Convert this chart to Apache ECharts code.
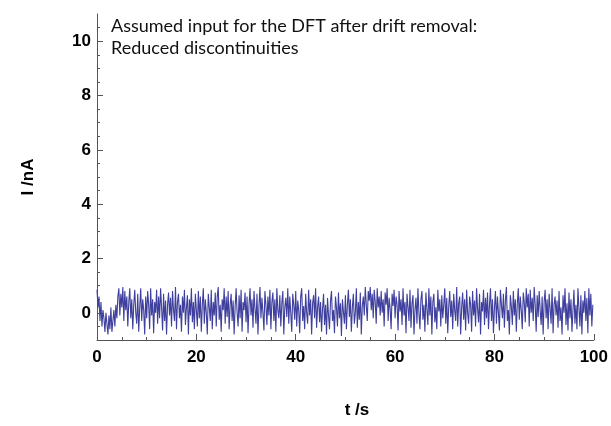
<!DOCTYPE html>
<html>
<head>
<meta charset="utf-8">
<script src="https://cdn.jsdelivr.net/npm/echarts@6/dist/echarts.min.js"></script>
<style>
  html, body { margin: 0; padding: 0; background: #fff; }
  #chart { width: 611px; height: 426px; }
</style>
</head>
<body>
<div id="chart"></div>
<script>
// sample spacing of the trace, seconds
const dt = 0.2

// current in nA, one array per 20 s
const current00 = [
  0.85, 0.2, 0.6, -0.3, 0.4, -0.5, 0.1, -0.2, -0.7, 0.0, -0.4, -0.8, -0.1, -0.6, 0.2, -0.7, -0.3, 0.1, -0.5, 0.3, -0.2, 0.6, 0.9, -0.1, 0.7,
  0.2, 0.95, -0.3, 0.8, 0.1, 0.6, -0.5, 0.4, 0.9, -0.2, 0.5, -0.6, 0.3, 0.85, 0.0, -0.4, 0.7, -0.7, 0.2, 0.9, -0.3, 0.5, 0.1, -0.8, 0.6,
  -0.2, 0.8, 0.3, -0.6, 0.9, -0.1, 0.5, -0.75, 0.4, 0.0, 0.85, -0.4, 0.6, -0.2, 0.9, 0.2, -0.65, 0.7, -0.3, 0.45, -0.8, 0.3, 0.75, -0.1, 0.55,
  -0.5, 0.8, 0.1, -0.3, 0.95, -0.6, 0.4, 0.7, -0.2, 0.3, -0.7, 0.6, 0.0, 0.85, -0.45, 0.2, 0.65, -0.8, 0.5, -0.1, 0.9, -0.35, 0.4, -0.6, 0.7
]
const current20 = [
  0.1, -0.5, 0.8, -0.2, 0.6, -0.7, 0.3, 0.9, -0.4, 0.5, 0.0, -0.8, 0.7, 0.2, -0.3, 0.85, -0.6, 0.4, -0.1, 0.75, -0.5, 0.6, 0.95, -0.25, 0.3,
  -0.7, 0.5, 0.1, 0.9, -0.4, 0.6, -0.15, 0.8, -0.6, 0.3, 0.7, -0.3, 0.45, -0.8, 0.2, 0.9, 0.0, -0.5, 0.65, -0.2, 0.85, -0.7, 0.4, 0.1, 0.75,
  -0.35, 0.6, -0.75, 0.3, 0.9, -0.1, 0.5, -0.55, 0.8, 0.15, -0.4, 0.7, -0.8, 0.25, 0.95, -0.2, 0.55, 0.0, -0.65, 0.8, 0.3, -0.45, 0.6, -0.1, 0.85,
  -0.6, 0.4, 0.75, -0.3, 0.5, -0.7, 0.9, 0.1, -0.2, 0.65, -0.5, 0.35, 0.8, -0.8, 0.2, 0.55, -0.15, 0.9, -0.4, 0.6, 0.0, -0.7, 0.7, 0.3, -0.25
]
const current40 = [
  0.8, -0.5, 0.45, 0.1, -0.75, 0.6, 0.9, -0.3, 0.25, -0.6, 0.7, 0.0, -0.4, 0.85, -0.1, 0.5, -0.8, 0.35, 0.65, -0.2, 0.9, -0.55, 0.2, 0.6, -0.35,
  0.4, -0.7, 0.15, 0.7, -0.45, 0.3, -0.8, 0.55, -0.1, -0.6, 0.45, 0.8, -0.3, 0.1, -0.75, 0.6, 0.2, -0.5, 0.75, -0.2, 0.35, -0.85, 0.5, 0.05, -0.4,
  0.65, -0.6, 0.3, 0.85, -0.15, 0.5, -0.7, 0.2, 0.7, -0.4, 0.0, 0.9, -0.55, 0.4, -0.25, 0.75, -0.8, 0.25, 0.6, -0.1, 0.95, 0.3, -0.3, 0.8, 0.45,
  0.95, 0.1, 0.7, -0.2, 0.85, 0.4, -0.4, 0.9, 0.2, 0.6, -0.1, 0.8, 0.0, 0.5, -0.5, 0.75, 0.3, 0.9, -0.3, 0.55, 0.15, -0.6, 0.7, 0.25, 0.85
]
const current60 = [
  -0.2, 0.6, 0.3, -0.65, 0.8, 0.05, 0.5, -0.45, 0.9, -0.1, 0.4, -0.75, 0.7, 0.2, -0.3, 0.85, -0.55, 0.35, 0.65, -0.8, 0.1, 0.55, -0.4, 0.9, 0.0,
  -0.6, 0.5, 0.8, -0.25, 0.3, -0.7, 0.75, 0.15, -0.45, 0.9, -0.1, 0.6, -0.8, 0.4, 0.7, -0.35, 0.2, -0.6, 0.85, 0.05, 0.5, -0.5, 0.65, -0.2, 0.3,
  0.9, -0.4, 0.55, -0.75, 0.25, 0.8, -0.15, 0.45, -0.6, 0.7, 0.1, -0.3, 0.95, -0.5, 0.35, 0.6, -0.8, 0.2, 0.75, -0.25, 0.5, -0.65, 0.85, 0.0, -0.4,
  0.6, 0.3, -0.7, 0.8, -0.1, 0.45, -0.5, 0.9, 0.15, -0.35, 0.7, -0.8, 0.4, 0.05, 0.85, -0.45, 0.55, -0.2, 0.75, -0.6, 0.3, 0.9, -0.3, 0.5, -0.75
]
const current80 = [
  0.2, 0.8, -0.4, 0.6, 0.0, -0.65, 0.85, 0.3, -0.2, 0.7, -0.55, 0.45, 0.95, -0.3, 0.1, -0.8, 0.65, 0.25, -0.45, 0.8, -0.1, 0.5, -0.7, 0.35, 0.9,
  -0.25, 0.6, 0.1, -0.6, 0.75, 0.4, -0.35, 0.9, 0.2, 0.7, -0.5, 0.85, 0.0, 0.55, -0.3, 0.95, 0.3, -0.7, 0.65, -0.15, 0.8, 0.1, -0.45, 0.6, -0.8,
  0.4, 0.85, -0.2, 0.5, -0.6, 0.7, 0.15, -0.4, 0.9, -0.75, 0.3, 0.6, -0.1, 0.45, -0.55, 0.8, -0.3, 0.2, -0.8, 0.65, 0.0, 0.9, -0.45, 0.35, -0.65,
  0.75, -0.2, 0.5, -0.7, 0.1, 0.85, -0.4, 0.3, -0.6, 0.9, 0.2, -0.5, 0.65, -0.8, 0.45, 0.0, 0.8, -0.3, 0.55, -0.75, 0.9, -0.1, 0.7, -0.5, 0.3
]

const yLabels = [0, 2, 4, 6, 8, 10]
const yMinor = [-0.5, 0.5, 1, 1.5, 2.5, 3, 3.5, 4.5, 5, 5.5, 6.5, 7, 7.5, 8.5, 9, 9.5, 10.5]
const noteLines = ['Assumed input for the DFT after drift removal:', 'Reduced discontinuities']

const current = [].concat(current00, current20, current40, current60, current80)
const trace = current.map((v, i) => [Math.round(i * dt * 10) / 10, v])

const axisColor = '#555'
const labelFont = {
  color: '#000',
  fontFamily: 'Liberation Sans, Arial, sans-serif',
  fontWeight: 'bold',
  fontSize: 17,
}

const myChart = echarts.init(document.getElementById('chart'), null, { renderer: 'canvas' })

myChart.setOption({
  animation: false,
  grid: { left: 97, right: 14, top: 14, bottom: 86 },
  xAxis: {
    type: 'value',
    min: 0,
    max: 100,
    interval: 20,
    axisLine: { onZero: false, lineStyle: { color: axisColor, width: 1 } },
    axisTick: { inside: true, length: 6, lineStyle: { color: axisColor } },
    minorTick: { show: true, splitNumber: 4, length: 3, lineStyle: { color: axisColor } },
    splitLine: { show: false },
    axisLabel: { ...labelFont, margin: 9 },
  },
  yAxis: [
    {
      type: 'value',
      min: -1,
      max: 11,
      axisLine: { show: true, onZero: false, lineStyle: { color: axisColor, width: 1 } },
      axisTick: { inside: true, length: 6, customValues: yLabels, lineStyle: { color: axisColor } },
      splitLine: { show: false },
      axisLabel: { ...labelFont, margin: 6, customValues: yLabels },
    },
    {
      type: 'value',
      min: -1,
      max: 11,
      position: 'left',
      axisLine: { show: false },
      axisTick: { show: true, inside: true, length: 3, customValues: yMinor, lineStyle: { color: axisColor } },
      splitLine: { show: false },
      axisLabel: { show: false },
    },
  ],
  graphic: [
    {
      type: 'text',
      left: 111,
      top: 15,
      style: {
        text: noteLines.join('\n'),
        font: '18px Lato, "Open Sans", sans-serif',
        lineHeight: 22,
        fill: '#111',
      },
    },
    {
      type: 'text',
      x: 28,
      y: 177,
      rotation: Math.PI / 2,
      style: {
        text: 'I /nA',
        font: 'bold 17px "Liberation Sans", Arial, sans-serif',
        fill: '#000',
        align: 'center',
        verticalAlign: 'middle',
      },
    },
    {
      type: 'text',
      x: 357,
      y: 410,
      style: {
        text: 't /s',
        font: 'bold 17px "Liberation Sans", Arial, sans-serif',
        fill: '#000',
        align: 'center',
        verticalAlign: 'middle',
      },
    },
  ],
  series: [
    {
      type: 'line',
      data: trace,
      yAxisIndex: 0,
      symbol: 'none',
      lineStyle: { width: 1.1, color: '#3f3f9e' },
      emphasis: { disabled: true },
    },
  ],
})
</script>
</body>
</html>
